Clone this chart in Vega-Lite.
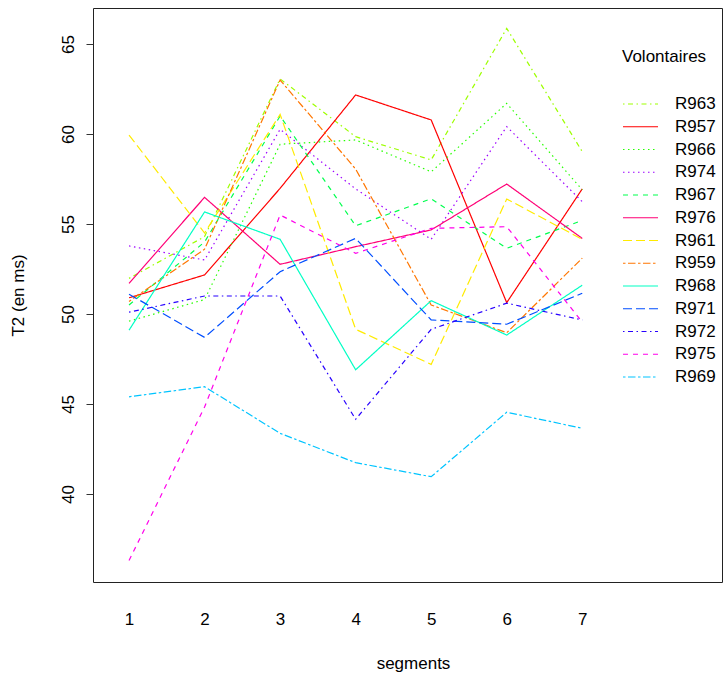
{
  "$schema": "https://vega.github.io/schema/vega-lite/v6.json",
  "autosize": {"type": "none"},
  "padding": {"left": 93, "top": 8, "right": 1, "bottom": 95},
  "width": 629,
  "height": 574,
  "background": "white",
  "datasets": {
    "t2": [
      {"vol": "R963", "seg": 1, "T2": 51.98}, {"vol": "R963", "seg": 2, "T2": 54.3}, {"vol": "R963", "seg": 3, "T2": 63.06}, {"vol": "R963", "seg": 4, "T2": 59.85}, {"vol": "R963", "seg": 5, "T2": 58.56}, {"vol": "R963", "seg": 6, "T2": 65.87}, {"vol": "R963", "seg": 7, "T2": 59.02},
      {"vol": "R957", "seg": 1, "T2": 50.9}, {"vol": "R957", "seg": 2, "T2": 52.17}, {"vol": "R957", "seg": 3, "T2": 56.98}, {"vol": "R957", "seg": 4, "T2": 62.17}, {"vol": "R957", "seg": 5, "T2": 60.78}, {"vol": "R957", "seg": 6, "T2": 50.63}, {"vol": "R957", "seg": 7, "T2": 56.95},
      {"vol": "R966", "seg": 1, "T2": 49.6}, {"vol": "R966", "seg": 2, "T2": 50.8}, {"vol": "R966", "seg": 3, "T2": 59.43}, {"vol": "R966", "seg": 4, "T2": 59.67}, {"vol": "R966", "seg": 5, "T2": 57.9}, {"vol": "R966", "seg": 6, "T2": 61.7}, {"vol": "R966", "seg": 7, "T2": 56.9},
      {"vol": "R974", "seg": 1, "T2": 53.78}, {"vol": "R974", "seg": 2, "T2": 53.0}, {"vol": "R974", "seg": 3, "T2": 60.26}, {"vol": "R974", "seg": 4, "T2": 56.95}, {"vol": "R974", "seg": 5, "T2": 54.15}, {"vol": "R974", "seg": 6, "T2": 60.41}, {"vol": "R974", "seg": 7, "T2": 56.24},
      {"vol": "R967", "seg": 1, "T2": 50.5}, {"vol": "R967", "seg": 2, "T2": 54.0}, {"vol": "R967", "seg": 3, "T2": 61.0}, {"vol": "R967", "seg": 4, "T2": 54.9}, {"vol": "R967", "seg": 5, "T2": 56.4}, {"vol": "R967", "seg": 6, "T2": 53.65}, {"vol": "R967", "seg": 7, "T2": 55.2},
      {"vol": "R976", "seg": 1, "T2": 51.7}, {"vol": "R976", "seg": 2, "T2": 56.48}, {"vol": "R976", "seg": 3, "T2": 52.76}, {"vol": "R976", "seg": 4, "T2": 53.74}, {"vol": "R976", "seg": 5, "T2": 54.67}, {"vol": "R976", "seg": 6, "T2": 57.22}, {"vol": "R976", "seg": 7, "T2": 54.2},
      {"vol": "R961", "seg": 1, "T2": 59.94}, {"vol": "R961", "seg": 2, "T2": 54.5}, {"vol": "R961", "seg": 3, "T2": 61.09}, {"vol": "R961", "seg": 4, "T2": 49.15}, {"vol": "R961", "seg": 5, "T2": 47.2}, {"vol": "R961", "seg": 6, "T2": 56.39}, {"vol": "R961", "seg": 7, "T2": 54.15},
      {"vol": "R959", "seg": 1, "T2": 50.7}, {"vol": "R959", "seg": 2, "T2": 53.6}, {"vol": "R959", "seg": 3, "T2": 63.0}, {"vol": "R959", "seg": 4, "T2": 58.05}, {"vol": "R959", "seg": 5, "T2": 50.5}, {"vol": "R959", "seg": 6, "T2": 48.96}, {"vol": "R959", "seg": 7, "T2": 53.1},
      {"vol": "R968", "seg": 1, "T2": 49.1}, {"vol": "R968", "seg": 2, "T2": 55.67}, {"vol": "R968", "seg": 3, "T2": 54.15}, {"vol": "R968", "seg": 4, "T2": 46.9}, {"vol": "R968", "seg": 5, "T2": 50.74}, {"vol": "R968", "seg": 6, "T2": 48.83}, {"vol": "R968", "seg": 7, "T2": 51.6},
      {"vol": "R971", "seg": 1, "T2": 51.1}, {"vol": "R971", "seg": 2, "T2": 48.7}, {"vol": "R971", "seg": 3, "T2": 52.35}, {"vol": "R971", "seg": 4, "T2": 54.2}, {"vol": "R971", "seg": 5, "T2": 49.67}, {"vol": "R971", "seg": 6, "T2": 49.43}, {"vol": "R971", "seg": 7, "T2": 51.15},
      {"vol": "R972", "seg": 1, "T2": 50.1}, {"vol": "R972", "seg": 2, "T2": 51.0}, {"vol": "R972", "seg": 3, "T2": 51.0}, {"vol": "R972", "seg": 4, "T2": 44.15}, {"vol": "R972", "seg": 5, "T2": 49.15}, {"vol": "R972", "seg": 6, "T2": 50.6}, {"vol": "R972", "seg": 7, "T2": 49.67},
      {"vol": "R975", "seg": 1, "T2": 36.3}, {"vol": "R975", "seg": 2, "T2": 44.83}, {"vol": "R975", "seg": 3, "T2": 55.5}, {"vol": "R975", "seg": 4, "T2": 53.37}, {"vol": "R975", "seg": 5, "T2": 54.76}, {"vol": "R975", "seg": 6, "T2": 54.85}, {"vol": "R975", "seg": 7, "T2": 49.55},
      {"vol": "R969", "seg": 1, "T2": 45.4}, {"vol": "R969", "seg": 2, "T2": 45.96}, {"vol": "R969", "seg": 3, "T2": 43.37}, {"vol": "R969", "seg": 4, "T2": 41.74}, {"vol": "R969", "seg": 5, "T2": 40.96}, {"vol": "R969", "seg": 6, "T2": 44.54}, {"vol": "R969", "seg": 7, "T2": 43.65}
    ]
  },
  "data": {"name": "t2"},
  "mark": {"type": "line", "strokeWidth": 1.2, "strokeCap": "butt"},
  "encoding": {
    "x": {
      "field": "seg", "type": "quantitative",
      "scale": {"domain": [0.523, 8.85], "nice": false, "zero": false},
      "axis": {"values": [1, 2, 3, 4, 5, 6, 7], "ticks": false, "domain": false, "grid": false, "labelPadding": 29, "labelBaseline": "top", "title": "segments", "titleBaseline": "alphabetic", "titleY": 86, "titleX": 320}
    },
    "y": {
      "field": "T2", "type": "quantitative",
      "scale": {"domain": [35.11, 67.0], "nice": false, "zero": false},
      "axis": {"values": [40, 45, 50, 55, 60, 65], "domain": false, "grid": false, "tickSize": 7, "tickColor": "#333333", "labelAngle": -90, "labelAlign": "center", "labelBaseline": "alphabetic", "labelPadding": 13, "title": "T2 (en ms)", "titleBaseline": "middle", "titleX": -75, "titleY": 287, "titleAngle": -90}
    },
    "color": {
      "field": "vol", "type": "nominal", "title": "Volontaires",
      "scale": {
        "domain": ["R963", "R957", "R966", "R974", "R967", "R976", "R961", "R959", "R968", "R971", "R972", "R975", "R969"],
        "range": ["#9DFF00", "#FF0000", "#27FF00", "#9D00FF", "#00FF4E", "#FF0076", "#FFEB00", "#FF7600", "#00FFC4", "#004EFF", "#2700FF", "#FF00EB", "#00C4FF"]
      }
    },
    "strokeDash": {
      "field": "vol", "type": "nominal", "title": "Volontaires",
      "scale": {
        "domain": ["R963", "R957", "R966", "R974", "R967", "R976", "R961", "R959", "R968", "R971", "R972", "R975", "R969"],
        "range": [[1.5, 3.5, 5, 3.5], [1, 0], [1.5, 3.5], [1.5, 3.5], [5, 5], [1, 0], [9, 4], [2.5, 2.5, 7.5, 2.5], [1, 0], [9, 4], [1.5, 3.5, 5, 3.5], [5, 5], [2.5, 2.5, 7.5, 2.5]]
      }
    }
  },
  "config": {
    "font": "Liberation Sans",
    "view": {"stroke": "#222222", "strokeWidth": 1},
    "axis": {"labelFont": "Liberation Sans", "labelFontSize": 17, "labelColor": "black", "titleFont": "Liberation Sans", "titleFontSize": 17, "titleFontWeight": "normal", "titleColor": "black"},
    "legend": {
      "orient": "none", "legendX": 529, "legendY": 41, "padding": 0,
      "titleFont": "Liberation Sans", "titleFontSize": 17, "titleFontWeight": "normal", "titleColor": "black", "titlePadding": 28,
      "labelFont": "Liberation Sans", "labelFontSize": 17, "labelColor": "black", "labelOffset": 16,
      "symbolType": "stroke", "symbolSize": 1225, "symbolStrokeWidth": 1.2,
      "clipHeight": 20, "rowPadding": 2.75
    }
  }
}
